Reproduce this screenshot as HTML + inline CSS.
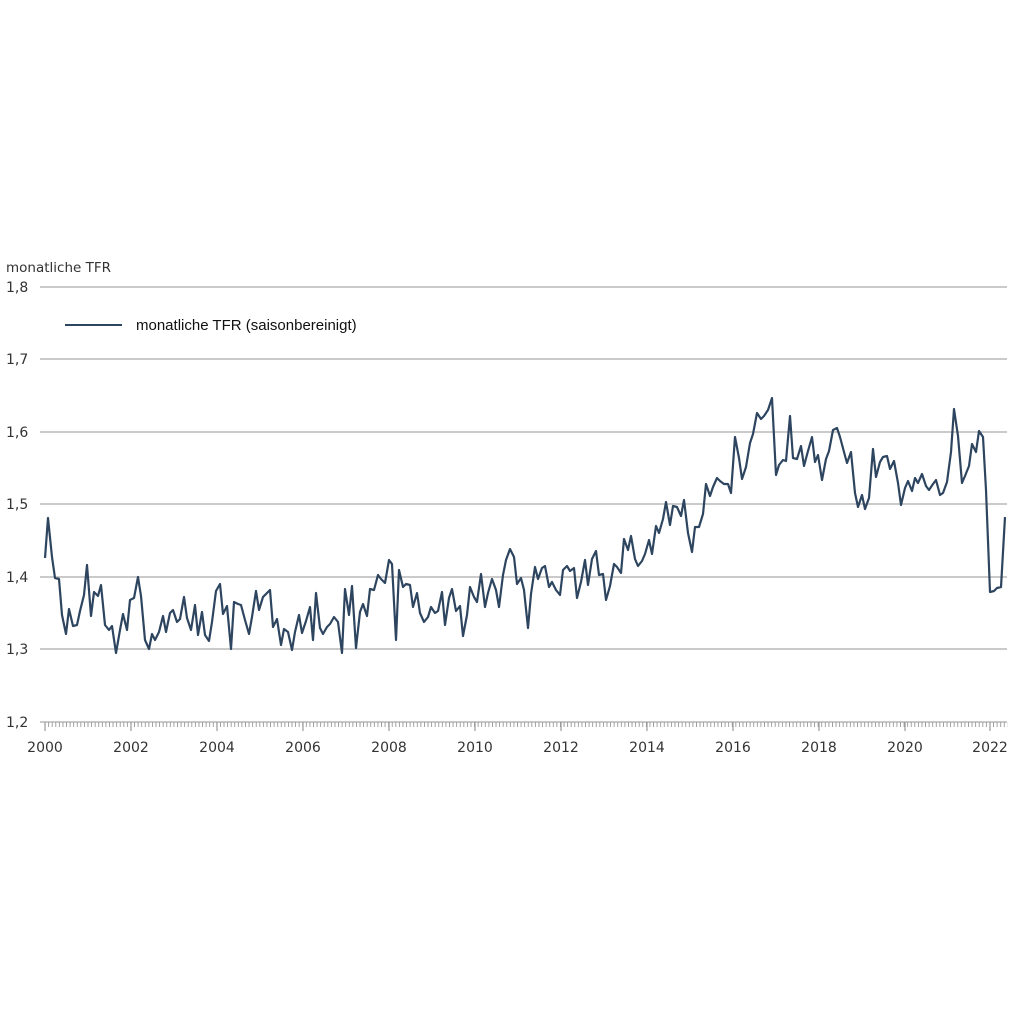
<!DOCTYPE html>
<html><head><meta charset="utf-8"><style>
html,body{margin:0;padding:0;background:#fff}
svg text{font-family:"DejaVu Sans","Liberation Sans",sans-serif;fill:#333}
</style></head><body>
<svg width="1024" height="1024" viewBox="0 0 1024 1024" xmlns="http://www.w3.org/2000/svg">
<defs>
<pattern id="mt" patternUnits="userSpaceOnUse" x="44.6" y="722" width="3.5792" height="6">
<rect x="0" y="0" width="0.9" height="6" fill="#999"/>
</pattern>
</defs>
<g stroke="#aaa" stroke-width="1.3">
<line x1="40" y1="287" x2="1007" y2="287"/>
<line x1="40" y1="359" x2="1007" y2="359"/>
<line x1="40" y1="432" x2="1007" y2="432"/>
<line x1="40" y1="504" x2="1007" y2="504"/>
<line x1="40" y1="577" x2="1007" y2="577"/>
<line x1="40" y1="649" x2="1007" y2="649"/>
<line x1="40" y1="722" x2="1007" y2="722"/>
</g>
<rect x="44.6" y="722" width="963" height="5" fill="url(#mt)"/>
<g stroke="#999" stroke-width="1.2">
<line x1="45" y1="722" x2="45" y2="731"/><line x1="131" y1="722" x2="131" y2="731"/>
<line x1="217" y1="722" x2="217" y2="731"/><line x1="303" y1="722" x2="303" y2="731"/>
<line x1="389" y1="722" x2="389" y2="731"/><line x1="475" y1="722" x2="475" y2="731"/>
<line x1="561" y1="722" x2="561" y2="731"/><line x1="647" y1="722" x2="647" y2="731"/>
<line x1="733" y1="722" x2="733" y2="731"/><line x1="819" y1="722" x2="819" y2="731"/>
<line x1="905" y1="722" x2="905" y2="731"/><line x1="990" y1="722" x2="990" y2="731"/>
</g>
<text x="6" y="272" font-size="13.5">monatliche TFR</text>
<g font-size="14">
<text x="6" y="292">1,8</text><text x="6" y="364">1,7</text><text x="6" y="437">1,6</text>
<text x="6" y="509">1,5</text><text x="6" y="582">1,4</text><text x="6" y="654">1,3</text>
<text x="6" y="727">1,2</text>
</g>
<g font-size="14" text-anchor="middle">
<text x="45" y="752">2000</text><text x="131" y="752">2002</text><text x="217" y="752">2004</text>
<text x="303" y="752">2006</text><text x="389" y="752">2008</text><text x="475" y="752">2010</text>
<text x="561" y="752">2012</text><text x="647" y="752">2014</text><text x="733" y="752">2016</text>
<text x="819" y="752">2018</text><text x="905" y="752">2020</text><text x="990" y="752">2022</text>
</g>
<line x1="65" y1="325" x2="122" y2="325" stroke="#2e4560" stroke-width="2"/>
<text x="136" y="330" font-size="15" style="fill:#111;font-family:'Liberation Sans',sans-serif">monatliche TFR (saisonbereinigt)</text>
<polyline fill="none" stroke="#2e4560" stroke-width="2.2" stroke-linejoin="round" points="45,558 48,518 52,557 55,578 59,579 62,615 66,634 69,609 73,626 77,625 80,611 84,595 87,565 91,616 94,592 98,596 101,585 105,625 109,630 112,626 116,653 120,630 123,614 127,630 130,600 134,598 138,577 141,596 145,640 149,649 152,634 155,640 159,632 163,616 166,632 170,613 173,610 177,622 180,619 184,597 187,618 191,630 195,605 198,635 202,612 205,635 209,641 212,622 216,591 220,584 223,614 227,606 231,649 234,602 238,604 241,605 245,620 249,634 252,617 256,591 259,610 263,597 266,594 270,590 273,627 277,619 281,645 284,629 288,632 292,650 295,632 299,615 302,633 306,621 310,607 313,640 316,593 320,628 323,634 327,627 330,624 334,617 338,622 342,653 345,589 349,615 352,586 356,648 360,612 363,604 367,616 370,589 374,590 378,575 381,579 385,583 389,560 392,564 396,640 399,570 403,587 406,584 410,585 413,607 417,593 420,613 424,622 428,617 431,607 435,613 438,611 442,592 445,625 449,598 452,589 456,611 460,606 463,636 467,615 470,587 474,597 477,602 481,574 485,607 488,593 492,579 496,590 499,607 503,575 506,560 510,549 514,557 517,584 521,578 524,590 528,628 531,594 535,567 538,579 542,568 545,566 549,587 552,582 556,590 560,595 563,570 567,566 570,571 574,568 577,598 581,582 585,560 588,585 592,559 596,551 599,575 603,574 606,600 610,586 614,564 617,567 621,573 624,539 628,550 631,536 635,559 638,566 642,561 645,554 649,540 652,554 656,526 659,533 663,519 666,502 670,525 673,506 677,507 681,516 684,500 688,533 692,552 695,527 699,527 703,514 706,484 710,496 713,487 717,478 720,481 724,484 728,484 731,493 735,437 739,458 742,479 746,467 750,443 753,434 757,413 761,419 764,416 768,410 772,398 776,475 779,465 783,460 786,461 790,416 793,458 797,459 801,446 804,466 808,451 812,437 815,462 818,455 822,480 826,459 829,451 833,430 837,428 840,437 844,452 847,463 851,452 855,493 858,507 862,495 865,509 869,498 873,449 876,477 880,462 883,457 887,456 890,469 894,461 898,483 901,505 905,488 908,481 912,491 915,478 918,483 922,474 926,486 929,490 933,484 936,480 940,495 943,493 947,482 951,452 954,409 958,436 962,483 965,476 969,466 972,444 976,452 979,431 983,437 986,490 990,592 994,591 997,588 1001,587 1005,517"/>
</svg>
</body></html>
